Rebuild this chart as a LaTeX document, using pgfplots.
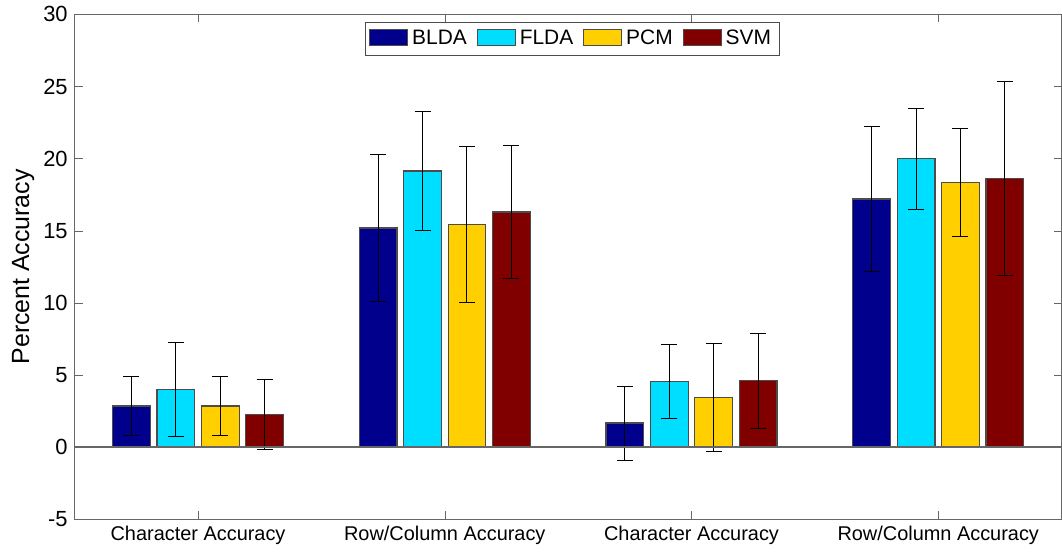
\documentclass[border=0pt]{standalone}
\usepackage{fontspec}
\setmainfont{Liberation Sans}
\usepackage{pgfplots}
\pgfplotsset{compat=1.18}

\definecolor{cBLDA}{RGB}{0,0,140}
\definecolor{cFLDA}{RGB}{0,222,255}
\definecolor{cPCM}{RGB}{255,207,0}
\definecolor{cSVM}{RGB}{128,0,0}

\pgfplotsset{
    mybar/.style={ybar, bar width=0.153, bar shift=0pt,
        draw=black!70, line width=0.6pt, fill=#1,
        error bars/y dir=both, error bars/y explicit,
        error bars/error bar style={black, line width=0.5pt},
        error bars/error mark options={rotate=90, mark size=4pt, black, line width=0.5pt}},
}

\begin{document}
\begin{tikzpicture}
\begin{axis}[
    scale only axis,
    width=495.5pt, height=253.5pt,
    xmin=0.5, xmax=4.5,
    ymin=-5, ymax=30,
    xtick={1,2,3,4},
    xticklabels={Character Accuracy, Row/Column Accuracy, Character Accuracy, Row/Column Accuracy},
    ytick={-5,0,5,10,15,20,25,30},
    tick align=inside,
    major tick length=4pt,
    axis line style={black!60},
    tick style={black!60},
    ylabel={Percent Accuracy},
    ylabel style={font=\fontsize{12.5}{14}\selectfont, yshift=-5pt, inner ysep=6pt},
    x tick label style={font=\fontsize{10}{12}\selectfont},
    y tick label style={font=\fontsize{11}{13}\selectfont},
    /pgf/number format/assume math mode=true,
    legend columns=4,
    legend style={at={(0.504,0.985)}, anchor=north, draw=black!70,
        font=\fontsize{10.5}{12}\selectfont, inner sep=2pt,
        nodes={inner xsep=2pt},
        /tikz/every even column/.append style={column sep=3pt}},
    legend image code/.code={\draw[#1] (0pt,-3pt) rectangle (19pt,5pt);},
]

\addplot[mybar=cBLDA] coordinates {
    (0.73, 2.85) +- (0, 2.02)
    (1.73, 15.2) +- (0, 5.1)
    (2.73, 1.67) +- (0, 2.56)
    (3.73, 17.2) +- (0, 5.05)
}; \addlegendentry{BLDA}

\addplot[mybar=cFLDA] coordinates {
    (0.91, 4.0) +- (0, 3.25)
    (1.91, 19.15) +- (0, 4.15)
    (2.91, 4.57) +- (0, 2.55)
    (3.91, 20.0) +- (0, 3.5)
}; \addlegendentry{FLDA}

\addplot[mybar=cPCM] coordinates {
    (1.09, 2.85) +- (0, 2.02)
    (2.09, 15.45) +- (0, 5.4)
    (3.09, 3.46) +- (0, 3.74)
    (4.09, 18.33) +- (0, 3.74)
}; \addlegendentry{PCM}

\addplot[mybar=cSVM] coordinates {
    (1.27, 2.28) +- (0, 2.42)
    (2.27, 16.3) +- (0, 4.62)
    (3.27, 4.6) +- (0, 3.29)
    (4.27, 18.6) +- (0, 6.73)
}; \addlegendentry{SVM}

\addplot[black!60, line width=0.8pt, forget plot, sharp plot] coordinates {(0.5,0) (4.5,0)};
\end{axis}
\end{tikzpicture}
\end{document}
